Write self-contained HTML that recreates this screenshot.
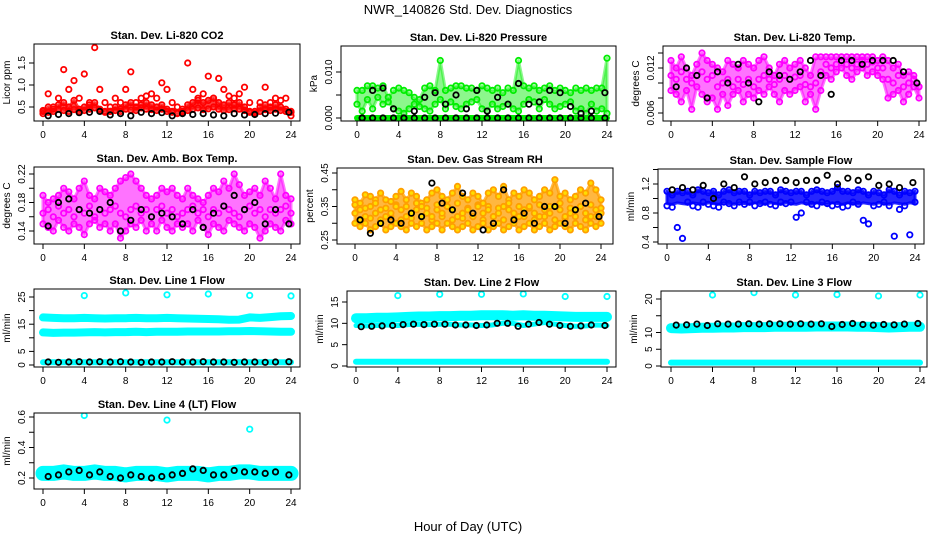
<!DOCTYPE html>
<html><head><meta charset="utf-8">
<style>
html,body{margin:0;padding:0;background:#fff;}
svg{display:block;font-family:"Liberation Sans",sans-serif;}
</style></head>
<body>
<svg id="chart" width="936" height="540" viewBox="0 0 936 540" xmlns="http://www.w3.org/2000/svg">
<rect x="0" y="0" width="936" height="540" fill="#fff"/>
<text x="468" y="14" font-size="13" text-anchor="middle">NWR_140826  Std. Dev. Diagnostics</text>
<text x="468" y="531" font-size="13" text-anchor="middle">Hour of Day (UTC)</text>
</svg>
<script>
const xTicks = [0,4,8,12,16,20,24];
const xTickLabels = ["0","4","8","12","16","20","24"];
const titles = ["Stan. Dev. Li-820 CO2","Stan. Dev. Li-820 Pressure","Stan. Dev. Li-820 Temp.","Stan. Dev. Amb. Box Temp.","Stan. Dev. Gas Stream RH","Stan. Dev. Sample Flow","Stan. Dev. Line 1 Flow","Stan. Dev. Line 2 Flow","Stan. Dev. Line 3 Flow","Stan. Dev. Line 4 (LT) Flow"];
const yLabels = ["Licor ppm","kPa","degrees C","degrees C","percent","ml/min","ml/min","ml/min","ml/min","ml/min"];
const yTicks = [[0.5,1.0,1.5],[0,0.005,0.01],[0.006,0.008,0.010,0.012,0.014],[0.14,0.16,0.18,0.20,0.22],[0.25,0.30,0.35,0.40,0.45],[0.4,0.6,0.8,1.0,1.2,1.4],[0,5,10,15,20,25],[0,5,10,15],[0,5,10,15,20],[0.2,0.3,0.4,0.5,0.6]];
const yTickLabels = [["0.5","1.0","1.5"],["0.000","","0.010"],["0.006","","","0.012",""],["0.14","","0.18","","0.22"],["0.25","","0.35","","0.45"],["0.4","","0.8","","1.2",""],["0","5","","15","","25"],["0","5","10","15"],["0","5","10","","20"],["0.2","","0.4","","0.6"]];

const halfHours = [0,0.5,1,1.5,2,2.5,3,3.5,4,4.5,5,5.5,6,6.5,7,7.5,8,8.5,9,9.5,10,10.5,11,11.5,12,12.5,13,13.5,14,14.5,15,15.5,16,16.5,17,17.5,18,18.5,19,19.5,20,20.5,21,21.5,22,22.5,23,23.5,24];
const blackHours = [0.5,1.5,2.5,3.5,4.5,5.5,6.5,7.5,8.5,9.5,10.5,11.5,12.5,13.5,14.5,15.5,16.5,17.5,18.5,19.5,20.5,21.5,22.5,23.8];
const hourly = [0,1,2,3,4,5,6,7,8,9,10,11,12,13,14,15,16,17,18,19,20,21,22,23,24];
const outlierHours = [4,8,12,16,20,24];

const co2Red1 = [0.4,0.8,0.5,0.7,1.35,0.9,1.1,0.7,1.25,0.6,1.85,0.9,0.6,0.5,0.7,0.6,0.9,1.3,0.6,0.7,0.75,0.8,0.7,1.05,0.9,0.6,0.5,0.45,1.5,0.9,0.7,0.8,1.2,0.7,1.15,0.9,0.75,0.7,0.8,0.95,0.6,0.4,0.6,0.95,0.6,0.7,0.65,0.7,0.3];
const co2Red2 = [0.35,0.5,0.45,0.55,0.6,0.5,0.65,0.45,0.5,0.55,0.6,0.45,0.4,0.4,0.5,0.45,0.55,0.6,0.5,0.55,0.6,0.55,0.5,0.55,0.45,0.4,0.35,0.4,0.55,0.6,0.65,0.6,0.65,0.7,0.6,0.55,0.6,0.55,0.6,0.5,0.4,0.35,0.5,0.55,0.5,0.55,0.5,0.45,0.4];
const co2Red3 = [0.42,0.38,0.4,0.45,0.42,0.4,0.44,0.4,0.42,0.45,0.48,0.42,0.38,0.4,0.42,0.4,0.45,0.43,0.42,0.48,0.45,0.44,0.42,0.45,0.4,0.38,0.36,0.38,0.42,0.45,0.48,0.44,0.46,0.5,0.45,0.42,0.44,0.46,0.45,0.42,0.38,0.36,0.4,0.44,0.42,0.45,0.42,0.4,0.38];
const co2Black = [0.3,0.33,0.35,0.37,0.38,0.4,0.32,0.35,0.3,0.38,0.35,0.37,0.3,0.35,0.33,0.35,0.32,0.3,0.35,0.32,0.33,0.35,0.36,0.38];
const presG1 = [0.006,0.006,0.007,0.007,0.0065,0.007,0.0045,0.006,0.0065,0.006,0.0055,0.0045,0.004,0.0065,0.007,0.006,0.0125,0.006,0.0065,0.007,0.007,0.0065,0.0065,0.006,0.007,0.0065,0.006,0.0065,0.0055,0.0065,0.006,0.0125,0.007,0.0065,0.007,0.006,0.0065,0.007,0.006,0.0065,0.006,0.0055,0.0065,0.006,0.0065,0.006,0.0065,0.0065,0.013];
const presG2 = [0.003,0.0015,0.004,0.002,0.0045,0.003,0.0035,0.002,0.0015,0.001,0.002,0.003,0.0025,0.002,0.0015,0.003,0.004,0.002,0.0035,0.0025,0.002,0.003,0.0035,0.004,0.002,0.0015,0.003,0.002,0.0025,0.003,0.002,0.0015,0.003,0.004,0.0035,0.002,0.004,0.003,0.002,0.0025,0.003,0.0035,0.0015,0.002,0.001,0.003,0.0015,0.002,0.001];
const presG0 = [0,0,0,0,0,0,0,0,0,0,0,0,0,0,0,0,0,0,0,0,0,0,0,0,0,0,0,0,0,0,0,0,0,0,0,0,0,0,0,0,0,0,0,0,0,0,0,0,0];
const presBlack = [0,0.006,0.0065,0.002,0,0.0015,0.0045,0.0055,0.003,0.005,0.002,0.006,0.0015,0.0045,0.003,0.0075,0.003,0.0035,0.006,0.0055,0.0025,0.001,0.0015,0.0055];
const presBlackZero = [0,0,0,0,0,0,0,0,0,0,0,0,0,0,0,0,0,0,0,0,0,0,0,0];
const ltM1 = [0.013,0.012,0.0135,0.012,0.011,0.0125,0.014,0.013,0.0125,0.012,0.0115,0.013,0.0125,0.012,0.013,0.0125,0.012,0.013,0.0135,0.012,0.011,0.0125,0.013,0.012,0.0125,0.013,0.012,0.011,0.0135,0.0135,0.0135,0.0135,0.0135,0.0135,0.0135,0.0135,0.0135,0.0135,0.0135,0.0135,0.013,0.0135,0.013,0.012,0.0125,0.011,0.0115,0.011,0.0095];
const ltM2 = [0.009,0.0085,0.0075,0.009,0.0065,0.0095,0.0085,0.0075,0.008,0.0065,0.0085,0.007,0.0085,0.009,0.0075,0.0085,0.008,0.009,0.0085,0.0095,0.0085,0.0075,0.009,0.0085,0.009,0.0095,0.0075,0.0085,0.0065,0.009,0.011,0.0105,0.0115,0.012,0.011,0.0105,0.0115,0.012,0.011,0.0115,0.011,0.0105,0.008,0.0085,0.009,0.0075,0.0085,0.0095,0.008];
const ltM3 = [0.011,0.0105,0.0115,0.0105,0.01,0.011,0.0115,0.0105,0.011,0.0095,0.01,0.0105,0.0095,0.0105,0.0098,0.0105,0.0095,0.0105,0.011,0.0105,0.0098,0.0105,0.011,0.0105,0.0108,0.011,0.0098,0.0095,0.01,0.0115,0.0125,0.012,0.0125,0.013,0.0125,0.012,0.0125,0.013,0.0125,0.0128,0.012,0.012,0.0105,0.01,0.011,0.0095,0.01,0.0105,0.0095];
const ltBlack = [0.0095,0.012,0.011,0.008,0.0115,0.01,0.0125,0.01,0.0075,0.0115,0.011,0.0105,0.0115,0.013,0.011,0.0085,0.013,0.013,0.0125,0.013,0.013,0.013,0.0115,0.01];
const abM1 = [0.19,0.18,0.185,0.19,0.2,0.195,0.185,0.2,0.21,0.19,0.185,0.2,0.195,0.19,0.2,0.21,0.215,0.22,0.21,0.2,0.19,0.185,0.19,0.2,0.195,0.2,0.19,0.185,0.2,0.19,0.185,0.18,0.19,0.2,0.195,0.21,0.2,0.22,0.205,0.19,0.195,0.2,0.19,0.21,0.2,0.185,0.22,0.19,0.185];
const abM2 = [0.15,0.145,0.14,0.155,0.145,0.14,0.15,0.145,0.135,0.15,0.155,0.145,0.15,0.14,0.15,0.13,0.14,0.15,0.145,0.155,0.14,0.15,0.14,0.155,0.145,0.14,0.15,0.145,0.15,0.14,0.155,0.145,0.135,0.15,0.145,0.14,0.155,0.15,0.145,0.14,0.15,0.145,0.13,0.14,0.15,0.145,0.14,0.155,0.15];
const abM3 = [0.165,0.17,0.16,0.175,0.165,0.17,0.16,0.17,0.165,0.175,0.16,0.17,0.165,0.17,0.175,0.165,0.16,0.17,0.175,0.165,0.17,0.16,0.17,0.175,0.165,0.17,0.16,0.165,0.17,0.175,0.165,0.17,0.16,0.17,0.165,0.175,0.17,0.165,0.16,0.17,0.175,0.165,0.17,0.16,0.17,0.165,0.17,0.175,0.165];
const abBlack = [0.147,0.18,0.185,0.17,0.165,0.17,0.18,0.14,0.155,0.17,0.16,0.165,0.16,0.15,0.17,0.145,0.165,0.175,0.19,0.17,0.18,0.15,0.17,0.15];
const rhO1 = [0.37,0.36,0.385,0.38,0.37,0.39,0.37,0.365,0.38,0.395,0.37,0.39,0.38,0.36,0.37,0.39,0.4,0.38,0.37,0.39,0.41,0.38,0.37,0.39,0.38,0.36,0.39,0.4,0.38,0.41,0.37,0.39,0.38,0.4,0.39,0.37,0.38,0.4,0.39,0.43,0.38,0.39,0.37,0.38,0.4,0.39,0.42,0.4,0.37];
const rhO2 = [0.3,0.29,0.3,0.28,0.29,0.3,0.28,0.29,0.3,0.29,0.28,0.3,0.29,0.3,0.28,0.29,0.3,0.28,0.3,0.29,0.28,0.29,0.3,0.28,0.29,0.3,0.28,0.29,0.3,0.28,0.29,0.3,0.28,0.29,0.3,0.28,0.29,0.3,0.28,0.29,0.3,0.29,0.28,0.3,0.29,0.28,0.3,0.29,0.3];
const rhO3 = [0.33,0.34,0.32,0.35,0.33,0.34,0.32,0.33,0.35,0.34,0.32,0.33,0.34,0.35,0.33,0.32,0.34,0.33,0.35,0.34,0.32,0.33,0.34,0.32,0.35,0.33,0.34,0.32,0.33,0.35,0.34,0.33,0.32,0.34,0.35,0.33,0.32,0.34,0.33,0.35,0.34,0.32,0.33,0.34,0.35,0.33,0.32,0.34,0.33];
const rhO4 = [0.355,0.31,0.345,0.315,0.36,0.31,0.345,0.32,0.355,0.31,0.35,0.315,0.36,0.32,0.345,0.31,0.355,0.32,0.35,0.31,0.36,0.315,0.345,0.32,0.355,0.31,0.35,0.32,0.345,0.31,0.36,0.315,0.35,0.32,0.345,0.31,0.355,0.32,0.35,0.31,0.36,0.315,0.345,0.32,0.35,0.31,0.355,0.32,0.345];
const rhBlack = [0.31,0.27,0.3,0.31,0.3,0.33,0.32,0.42,0.36,0.34,0.39,0.33,0.28,0.3,0.4,0.31,0.33,0.3,0.35,0.35,0.3,0.34,0.36,0.32];
const sfB1 = [1.1,1.05,1.1,1.08,1.1,1.05,1.12,1.1,1.08,1.1,1.05,1.1,1.12,1.08,1.1,1.1,1.05,1.1,1.08,1.1,1.1,1.05,1.12,1.1,1.08,1.1,1.1,1.05,1.1,1.12,1.1,1.08,1.1,1.15,1.1,1.1,1.08,1.12,1.1,1.05,1.1,1.08,1.05,1.12,1.1,1.05,1.1,1.08,1.1];
const sfB2 = [0.9,0.88,0.6,0.45,0.95,0.9,0.88,0.95,0.92,0.9,0.88,0.95,0.93,0.9,0.95,0.92,0.95,0.9,0.93,0.95,0.92,0.9,0.95,0.93,0.95,0.74,0.8,0.95,0.92,0.9,0.95,0.93,0.9,0.92,0.88,0.9,0.95,0.92,0.7,0.65,0.9,0.92,0.95,0.9,0.48,0.85,0.9,0.5,0.95];
const sfB3 = [0.93,0.92,0.94,0.93,0.92,0.94,0.93,0.92,0.94,0.93,0.92,0.94,0.93,0.92,0.94,0.93,0.92,0.94,0.93,0.92,0.94,0.93,0.92,0.94,0.93,0.92,0.94,0.93,0.92,0.94,0.93,0.92,0.94,0.93,0.92,0.94,0.93,0.92,0.94,0.93,0.92,0.94,0.93,0.92,0.94,0.93,0.92,0.94,0.93];
const sfBlack = [1.12,1.15,1.12,1.18,1.0,1.2,1.15,1.3,1.2,1.22,1.25,1.25,1.22,1.25,1.25,1.32,1.2,1.28,1.25,1.3,1.18,1.2,1.15,1.22];
const l1BandA = [17.5,17.3,17.2,17.2,17.3,17.2,17.1,17.2,17.2,17.3,17.2,17.2,17.3,17.2,17.1,17.0,16.9,16.8,16.6,16.7,17.5,17.3,17.6,17.9,18.0];
const l1BandB = [12,11.8,11.9,11.9,12,12.1,12,12.1,12.1,12.2,12.1,12.2,12.2,12.2,12.3,12.3,12.3,12.3,12.4,12.4,12.5,12.4,12.3,12.2,12.2];
const l1BandC = [1,1,1,1,1,1,1,1,1,1,1,1,1,1,1,1,1,1,1,1,1,1,1,1,1];
const l1Outliers = [25.5,26.5,25.8,26.1,25.6,25.4];
const l1Black = [1.1,1.0,1.1,1.2,1.1,1.2,1.1,1.2,1.1,1.0,1.1,1.1,1.2,1.1,1.1,1.2,1.1,1.1,1.0,1.1,1.1,1.0,1.1,1.2];
const l2BandHi = [11.2,11.2,11.3,11.3,11.4,11.5,11.6,11.6,11.7,11.7,11.8,11.8,11.9,11.9,11.9,11.8,11.9,11.8,11.8,11.7,11.6,11.5,11.5,11.5,11.5];
const l2BandMid = [9.5,9.4,9.5,9.6,9.5,9.7,9.8,9.7,9.8,9.8,9.6,9.6,9.5,9.6,10.0,10.0,9.5,9.8,10.2,9.8,9.5,9.3,9.4,9.6,9.5];
const l2BandLo = [1,1,1,1,1,1,1,1,1,1,1,1,1,1,1,1,1,1,1,1,1,1,1,1,1];
const l2Outliers = [16.5,16.8,16.8,16.9,16.3,16.3];
const l2Black = [9.2,9.3,9.4,9.5,9.7,9.8,9.7,9.8,9.8,9.6,9.6,9.5,9.6,10.0,10.0,9.3,9.8,10.2,9.8,9.5,9.3,9.4,9.6,9.5];
const l3BandHi = [11.3,11.2,11.3,11.4,11.4,11.5,11.5,11.6,11.6,11.6,11.7,11.7,11.7,11.7,11.8,11.8,11.8,11.8,11.7,11.7,11.6,11.5,11.6,11.7,11.7];
const l3BandLo = [1,1,1,1,1,1,1,1,1,1,1,1,1,1,1,1,1,1,1,1,1,1,1,1,1];
const l3Outliers = [21.2,21.9,21.2,21.3,20.9,21.2];
const l3Black = [12.2,12.3,12.5,12.1,12.6,12.5,12.5,12.6,12.5,12.6,12.6,12.5,12.6,12.5,12.6,11.8,12.4,12.7,12.4,12.2,12.4,12.3,12.5,12.7];
const l4Band = [0.23,0.23,0.24,0.23,0.23,0.24,0.23,0.23,0.22,0.23,0.23,0.23,0.22,0.23,0.23,0.23,0.22,0.23,0.23,0.24,0.24,0.23,0.23,0.23,0.23];
const l4Outliers = [0.61,0.58,0.52];
const l4OutlierHours = [4,12,20];
const l4Black = [0.21,0.22,0.24,0.25,0.22,0.24,0.21,0.2,0.22,0.21,0.2,0.21,0.22,0.23,0.26,0.25,0.22,0.22,0.25,0.24,0.24,0.23,0.24,0.22];

const RED="#ff0000", GRN="#00ee00", MAG="#ff00ff", BLU="#0000ff", CYN="#00ffff", BLK="#000000", ORG="#ff9f00";

const panels = [
 {box:[34,300,44,121], xp:[43,291], ya:[0.5,107], yb:[1.0,85],
  fill:{x:halfHours,hi:co2Red2,lo:co2Red3,c:RED,o:0.75,n:'co2-dense-cloud'},
  series:[{x:halfHours,y:co2Red1,c:RED,n:'co2-red-upper'},{x:halfHours,y:co2Red2,c:RED,n:'co2-red-mid'},{x:halfHours,y:co2Red3,c:RED,n:'co2-red-low'},{x:blackHours,y:co2Black,c:BLK,n:'co2-black'}]},
 {box:[341,616,46,121], xp:[357,607], ya:[0,118], yb:[0.01,72],
  fill:{x:halfHours,hi:presG1,lo:presG2,c:GRN,o:0.45,n:'pressure-dense-cloud'},
  bands:[{x:halfHours,y:presG0,w:6,c:GRN,n:'pressure-zero-band'}],
  series:[{x:halfHours,y:presG1,c:GRN,n:'pressure-green-upper'},{x:halfHours,y:presG2,c:GRN,n:'pressure-green-lower'},{x:blackHours,y:presBlackZero,c:BLK,n:'pressure-black-zero'},{x:blackHours,y:presBlack,c:BLK,n:'pressure-black'}]},
 {box:[663,926,46,121], xp:[671,919], ya:[0.012,68], yb:[0.006,113],
  fill:{x:halfHours,hi:ltM1,lo:ltM2,c:MAG,o:0.55,n:'litemp-dense-cloud'},
  series:[{x:halfHours,y:ltM1,c:MAG,n:'litemp-upper'},{x:halfHours,y:ltM3,c:MAG,n:'litemp-mid'},{x:halfHours,y:ltM2,c:MAG,n:'litemp-lower'},{x:blackHours,y:ltBlack,c:BLK,n:'litemp-black'}]},
 {box:[34,300,167,244], xp:[43,291], ya:[0.22,174], yb:[0.14,231],
  fill:{x:halfHours,hi:abM1,lo:abM2,c:MAG,o:0.55,n:'ambtemp-dense-cloud'},
  series:[{x:halfHours,y:abM1,c:MAG,n:'ambtemp-upper'},{x:halfHours,y:abM3,c:MAG,n:'ambtemp-mid'},{x:halfHours,y:abM2,c:MAG,n:'ambtemp-lower'},{x:blackHours,y:abBlack,c:BLK,n:'ambtemp-black'}]},
 {box:[337,613,168,244], xp:[355,601], ya:[0.45,173], yb:[0.25,240],
  fill:{x:halfHours,hi:rhO1,lo:rhO2,c:ORG,o:0.75,n:'rh-dense-cloud'},
  series:[{x:halfHours,y:rhO1,c:ORG,f:'#ffdd00',n:'rh-upper'},{x:halfHours,y:rhO4,c:ORG,f:'#ffdd00',n:'rh-mid-a'},{x:halfHours,y:rhO3,c:ORG,f:'#ffdd00',n:'rh-mid-b'},{x:halfHours,y:rhO2,c:ORG,f:'#ffdd00',n:'rh-lower'},{x:blackHours,y:rhBlack,c:BLK,n:'rh-black'}]},
 {box:[658,924,169,244], xp:[667,915], ya:[1.2,184], yb:[0.4,242],
  fill:{x:halfHours,hi:sfB1,lo:sfB3,c:BLU,o:0.85,n:'sampleflow-dense-cloud'},
  series:[{x:halfHours,y:sfB1,c:BLU,n:'sampleflow-upper'},{x:halfHours,y:sfB2,c:BLU,n:'sampleflow-lower'},{x:blackHours,y:sfBlack,c:BLK,n:'sampleflow-black'}]},
 {box:[34,300,289,367], xp:[43,291], ya:[0,365], yb:[25,297],
  bands:[{x:hourly,y:l1BandA,w:8,n:'line1-band-a'},{x:hourly,y:l1BandB,w:8,n:'line1-band-b'},{x:hourly,y:l1BandC,w:6,n:'line1-band-c'}],
  series:[{x:outlierHours,y:l1Outliers,c:CYN,n:'line1-outliers'},{x:blackHours,y:l1Black,c:BLK,n:'line1-black'}]},
 {box:[347,616,291,367], xp:[356,607], ya:[0,366], yb:[15,302],
  bands:[{x:hourly,y:l2BandHi,w:10,n:'line2-band-hi'},{x:hourly,y:l2BandMid,w:5,n:'line2-band-mid'},{x:hourly,y:l2BandLo,w:6,n:'line2-band-lo'}],
  series:[{x:outlierHours,y:l2Outliers,c:CYN,n:'line2-outliers'},{x:blackHours,y:l2Black,c:BLK,n:'line2-black'}]},
 {box:[661,927,291,367], xp:[671,920], ya:[0,366], yb:[20,299],
  bands:[{x:hourly,y:l3BandHi,w:10,n:'line3-band-hi'},{x:hourly,y:l3BandLo,w:6,n:'line3-band-lo'}],
  series:[{x:outlierHours,y:l3Outliers,c:CYN,n:'line3-outliers'},{x:blackHours,y:l3Black,c:BLK,n:'line3-black'}]},
 {box:[34,300,413,489], xp:[43,291], ya:[0.2,478], yb:[0.6,417],
  bands:[{x:hourly,y:l4Band,w:15,n:'line4-band'}],
  series:[{x:l4OutlierHours,y:l4Outliers,c:CYN,n:'line4-outliers'},{x:blackHours,y:l4Black,c:BLK,n:'line4-black'}]}
];

const NS="http://www.w3.org/2000/svg";
const svg=document.getElementById('chart');
function mk(tag,attrs,parent){const e=document.createElementNS(NS,tag);for(const k in attrs)e.setAttribute(k,attrs[k]);(parent||svg).appendChild(e);return e;}

panels.forEach((p,i)=>{
  const [L,R,T,B]=p.box;
  const g=mk('g',{});
  
  
  const xs=h=>p.xp[0]+(h/24)*(p.xp[1]-p.xp[0]);
  const ys=v=>p.ya[1]+(v-p.ya[0])*(p.yb[1]-p.ya[1])/(p.yb[0]-p.ya[0]);
  const clip=mk('clipPath',{id:'clip'+i},g);
  mk('rect',{x:L,y:T,width:R-L,height:B-T},clip);
  const plot=mk('g',{'clip-path':'url(#clip'+i+')'},g);
  if(p.fill){
    const f=p.fill;
    const top=f.x.map((h,k)=>xs(h).toFixed(1)+','+ys(f.hi[k]).toFixed(1));
    const bot=f.x.map((h,k)=>xs(h).toFixed(1)+','+ys(f.lo[k]).toFixed(1)).reverse();
    const pg=mk('polygon',{points:top.concat(bot).join(' '),fill:f.c,'fill-opacity':f.o,stroke:f.c,'stroke-opacity':f.o,'stroke-width':3,'stroke-linejoin':'round'},plot);
    
    
  }
  (p.bands||[]).forEach(b=>{
    const pts=b.x.map((h,k)=>xs(h).toFixed(1)+','+ys(b.y[k]).toFixed(1)).join(' ');
    const pl=mk('polyline',{points:pts,fill:'none',stroke:b.c||CYN,'stroke-width':b.w,'stroke-linejoin':'round','stroke-linecap':'round'},plot);
    
    
  });
  p.series.forEach(s=>{
    const sg=mk('g',{},plot);
    
    
    s.x.forEach((h,k)=>{
      const c=mk('circle',{cx:xs(h).toFixed(1),cy:ys(s.y[k]).toFixed(1),r:2.7,fill:s.f||'none',stroke:s.c,'stroke-width':1.8},sg);
      
      
    });
  });
  const box=mk('rect',{x:L,y:T,width:R-L,height:B-T,fill:'none',stroke:'#000','stroke-width':1},g);
  
  
  const t=mk('text',{x:(L+R)/2,y:T-5,'font-size':11,'font-weight':'bold','text-anchor':'middle'},g);
  t.textContent=titles[i];
  
  
  const xa=mk('g',{},g);
  
  
  mk('line',{x1:xs(0),x2:xs(24),y1:B,y2:B,stroke:'#000'},xa);
  xTicks.forEach((h,k)=>{
    mk('line',{x1:xs(h),x2:xs(h),y1:B,y2:B+5,stroke:'#000'},xa);
    const tl=mk('text',{x:xs(h),y:B+17,'font-size':10,'text-anchor':'middle'},xa);
    tl.textContent=xTickLabels[k];
    
    
  });
  const ya=mk('g',{},g);
  
  
  yTicks[i].forEach((v,k)=>{
    const y=ys(v);
    mk('line',{x1:L-5,x2:L,y1:y,y2:y,stroke:'#000'},ya);
    const lab=yTickLabels[i][k];
    if(lab){
      const tl=mk('text',{x:L-9,y:y,'font-size':10,'text-anchor':'middle',transform:'rotate(-90 '+(L-9)+' '+y+')'},ya);
      tl.textContent=lab;
      
      
    }
  });
  const yl=mk('text',{x:L-24,y:(T+B)/2,'font-size':10,'text-anchor':'middle',transform:'rotate(-90 '+(L-24)+' '+((T+B)/2)+')'},g);
  yl.textContent=yLabels[i];
  
  
});
</script>
</body></html>
